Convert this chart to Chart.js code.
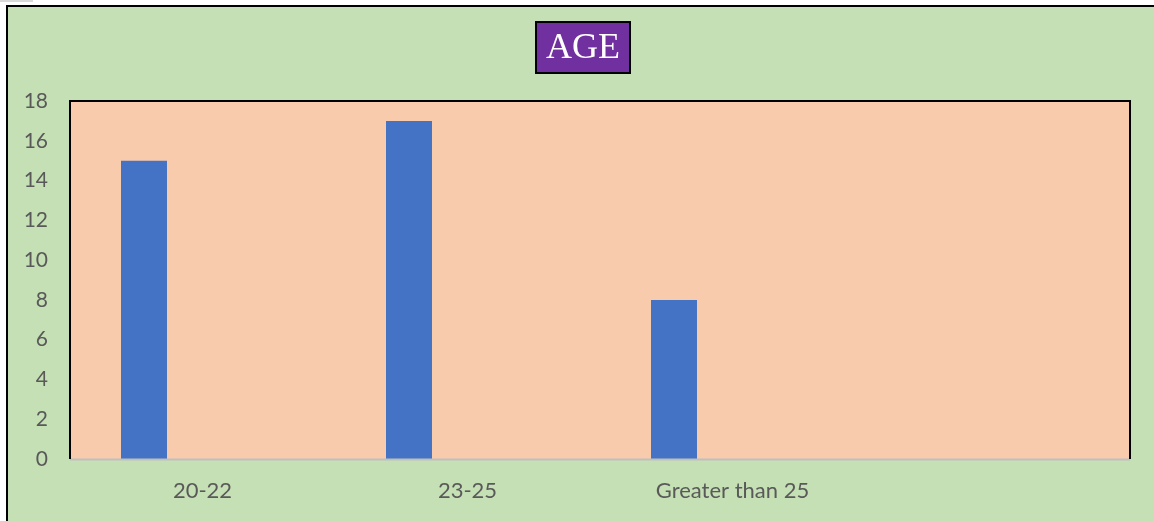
<!DOCTYPE html>
<html><head><meta charset="utf-8">
<script src="https://cdn.jsdelivr.net/npm/chart.js@4/dist/chart.umd.min.js"></script>
<style>html,body{margin:0;padding:0;background:#fff;}#wrap{width:1154px;height:521px;}</style>
</head><body><div id="wrap"><canvas id="c" width="1154" height="521"></canvas></div>
<script>
const categories = ["20-22", "23-25", "Greater than 25", ""];
const ageCounts = [15, 17, 8, null];
const emptySeries = [null, null, null, null];
const yTicks = [0, 2, 4, 6, 8, 10, 12, 14, 16, 18];
const titleText = "AGE";

const deco = {
  id: 'deco',
  beforeDraw(chart) {
    const ctx = chart.ctx, a = chart.chartArea;
    ctx.save();
    ctx.fillStyle = '#ffffff';
    ctx.fillRect(0, 0, chart.width, chart.height);
    ctx.fillStyle = '#d9d9d9';
    ctx.fillRect(0, 0, 33, 2);
    ctx.fillStyle = '#C5E0B4';
    ctx.fillRect(7, 6, chart.width - 7, chart.height - 6);
    ctx.strokeStyle = '#000';
    ctx.lineWidth = 2;
    ctx.beginPath();
    ctx.moveTo(7, chart.height); ctx.lineTo(7, 6); ctx.lineTo(chart.width, 6);
    ctx.stroke();
    ctx.fillStyle = '#F8CBAD';
    ctx.fillRect(a.left, a.top, a.right - a.left, a.bottom - a.top);
    // title box
    ctx.fillStyle = '#7030A0';
    ctx.fillRect(536, 22, 94, 51);
    ctx.strokeStyle = '#000';
    ctx.lineWidth = 2;
    ctx.strokeRect(536, 22, 94, 51);
    ctx.fillStyle = '#ffffff';
    ctx.font = '36px "Liberation Serif", "Times New Roman", serif';
    ctx.textAlign = 'center';
    ctx.textBaseline = 'middle';
    ctx.fillText(titleText, 583, 49);
    ctx.restore();
  },
  afterDatasetsDraw(chart) {
    const ctx = chart.ctx, a = chart.chartArea;
    ctx.save();
    ctx.strokeStyle = '#bfbfbf';
    ctx.lineWidth = 2;
    ctx.beginPath();
    ctx.moveTo(a.left, a.bottom + 0.5); ctx.lineTo(a.right, a.bottom + 0.5);
    ctx.stroke();
    ctx.strokeStyle = '#000';
    ctx.lineWidth = 2;
    ctx.beginPath();
    ctx.moveTo(a.left, a.bottom); ctx.lineTo(a.left, a.top); ctx.lineTo(a.right, a.top); ctx.lineTo(a.right, a.bottom);
    ctx.stroke();
    ctx.restore();
  }
};

new Chart(document.getElementById('c'), {
  type: 'bar',
  data: {
    labels: categories,
    datasets: [
      { label: 'Series1', data: ageCounts, backgroundColor: '#4472C4', barPercentage: 0.393, categoryPercentage: 0.883 },
      { label: 'Series2', data: emptySeries, backgroundColor: '#ED7D31', barPercentage: 0.393, categoryPercentage: 0.883 }
    ]
  },
  options: {
    responsive: false,
    animation: false,
    devicePixelRatio: 1,
    layout: { padding: { top: 101, right: 24, left: 0, bottom: 0 } },
    plugins: { legend: { display: false }, title: { display: false }, tooltip: { enabled: false } },
    scales: {
      x: {
        grid: { display: false, drawTicks: false },
        border: { display: false },
        ticks: { color: '#595959', font: { family: 'Lato, "Open Sans", sans-serif', size: 22 }, padding: 19, maxRotation: 0, autoSkip: false },
        afterFit(s) { s.height = 62; }
      },
      y: {
        min: 0, max: 18,
        afterBuildTicks(s) { s.ticks = yTicks.map(v => ({ value: v })); },
        grid: { display: false, drawTicks: false },
        border: { display: false },
        ticks: { color: '#595959', font: { family: 'Lato, "Open Sans", sans-serif', size: 21 }, padding: 22 },
        afterFit(s) { s.width = 70; }
      }
    }
  },
  plugins: [deco]
});
</script>
</body></html>
